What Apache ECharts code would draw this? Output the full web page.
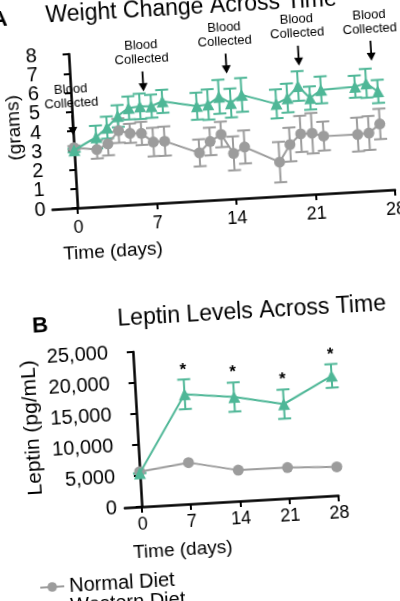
<!DOCTYPE html>
<html>
<head>
<meta charset="utf-8">
<script src="https://cdn.jsdelivr.net/npm/echarts@6/dist/echarts.min.js"></script>
<style>
  html, body { margin: 0; padding: 0; background: #fff; overflow: hidden; }
  body { width: 400px; height: 601px; position: relative; }
  /* the reference figure is photographed slightly tilted */
  #chart {
    position: absolute; left: -20px; top: -20px;
    width: 440px; height: 641px;
    transform: rotate(-3.3deg);
    transform-origin: 220px 320.5px;
  }
</style>
</head>
<body>
<div id="chart"></div>
<script>
  // weight panel (A)
  const weightDays = [0, 2, 3, 4, 5, 6, 7, 8, 11, 12, 13, 14, 15, 18, 19, 20, 21, 22, 25, 26, 27];
  const weightNormal = [3.13, 2.97, 3.23, 3.88, 3.71, 3.67, 3.19, 3.20, 2.49, 3.05, 3.38, 2.36, 2.66, 1.77, 2.65, 3.17, 3.17, 2.99, 2.97, 3.01, 3.45];
  const weightNormalErr = [0.1, 0.47, 0.6, 0.63, 0.5, 0.6, 0.74, 0.76, 0.7, 0.72, 0.66, 0.88, 0.86, 1.05, 0.88, 0.94, 1.05, 0.75, 0.88, 0.88, 0.79];
  const weightWestern = [3.0, 3.61, 4.08, 4.64, 5.03, 5.08, 5.05, 5.27, 4.92, 4.97, 5.34, 4.98, 5.37, 4.80, 5.07, 5.66, 5.0, 5.39, 5.46, 5.60, 5.14];
  const weightWesternErr = [0.1, 0.6, 0.57, 0.57, 0.6, 0.66, 0.6, 0.6, 0.7, 0.79, 0.88, 0.75, 0.88, 0.75, 0.75, 0.77, 0.6, 0.7, 0.57, 0.75, 0.6];
  const weightTicks = [0, 1, 2, 3, 4, 5, 6, 7, 8];
  const bloodDays = [0, 6.4, 13.8, 20.2, 26.6];
  const bloodArrowTip = [3.78, 5.85, 6.52, 6.71, 6.75];

  // leptin panel (B)
  const leptinDays = [0, 7, 14, 21, 28];
  const leptinNormal = [5650, 6670, 4980, 4940, 4600];
  const leptinWestern = [5400, 17700, 16800, 15200, 19300];
  const leptinWesternErr = [0, 2400, 2350, 2350, 1900];
  const leptinSig = ['', '*', '*', '*', '*'];

  const dayTicks = [0, 7, 14, 21, 28];
  const seriesNames = ['Normal Diet', 'Western Diet'];

  const GRAY = '#9c9c9c';
  const TEAL = '#4fb797';
  const FONT = 'Liberation Sans, Arial, sans-serif';

  function errRows(xs, ys, es) {
    return xs.map((x, i) => [x, ys[i] - es[i], ys[i] + es[i]]);
  }

  function errorBars(color, capHalf, marks) {
    return function (params, api) {
      const x = api.value(0);
      const top = api.coord([x, api.value(2)]);
      const bot = api.coord([x, api.value(1)]);
      const st = { stroke: color, lineWidth: 2 };
      const kids = [
        { type: 'line', shape: { x1: top[0], y1: top[1], x2: bot[0], y2: bot[1] }, style: st },
        { type: 'line', shape: { x1: top[0] - capHalf, y1: top[1], x2: top[0] + capHalf, y2: top[1] }, style: st },
        { type: 'line', shape: { x1: bot[0] - capHalf, y1: bot[1], x2: bot[0] + capHalf, y2: bot[1] }, style: st }
      ];
      if (marks && marks[params.dataIndex]) {
        kids.push({
          type: 'text', x: top[0], y: top[1] - 1,
          style: { text: marks[params.dataIndex], fill: '#000', fontSize: 17, fontFamily: FONT,
                   fontWeight: 'bold', align: 'center', verticalAlign: 'bottom' }
        });
      }
      return { type: 'group', children: kids };
    };
  }

  const axisCommon = {
    axisLine: { lineStyle: { color: '#000', width: 2.5 } },
    axisTick: { lineStyle: { color: '#000', width: 2 }, length: 6 },
    splitLine: { show: false },
    nameMoveOverlap: false
  };

  // the 0..8 labels are tightly packed, so split them over two overlaid axes
  const evenTicks = weightTicks.filter(v => v % 2 === 0);
  const oddTicks = weightTicks.filter(v => v % 2 === 1);

  const myChart = echarts.init(document.getElementById('chart'));
  myChart.setOption({
    animation: false,
    backgroundColor: '#fff',
    textStyle: { fontFamily: FONT },
    title: [
      { text: 'Weight Change Across Time', left: 228, top: 16, textAlign: 'center', padding: 0,
        textStyle: { fontSize: 23, fontWeight: 'normal', color: '#000', lineHeight: 23 } },
      { text: 'Leptin Levels Across Time', left: 271, top: 323, textAlign: 'center', padding: 0,
        textStyle: { fontSize: 23, fontWeight: 'normal', color: '#000', lineHeight: 23 } },
      { text: 'A', left: 36, top: 18, textAlign: 'center', padding: 0,
        textStyle: { fontSize: 22, fontWeight: 'bold', color: '#000', lineHeight: 22 } },
      { text: 'B', left: 59, top: 326, textAlign: 'center', padding: 0,
        textStyle: { fontSize: 22, fontWeight: 'bold', color: '#000', lineHeight: 22 } }
    ],
    legend: {
      data: seriesNames,
      orient: 'vertical',
      left: 43, top: 588,
      padding: 0, itemGap: 0,
      itemWidth: 24, itemHeight: 12,
      textStyle: { fontSize: 20, color: '#000', lineHeight: 18 }
    },
    grid: [
      { left: 78, top: 67, width: 343, height: 154, outerBoundsMode: 'none' },
      { left: 133, top: 368, width: 214, height: 155, outerBoundsMode: 'none' }
    ],
    xAxis: [
      Object.assign({}, axisCommon, {
        type: 'value', gridIndex: 0, min: -2.2, max: 28,
        axisTick: Object.assign({}, axisCommon.axisTick, { customValues: dayTicks }),
        axisLabel: { customValues: dayTicks, fontSize: 18, color: '#000', margin: 11 },
        name: 'Time (days)', nameLocation: 'middle', nameGap: 36,
        nameTextStyle: { fontSize: 19, color: '#000', padding: [0, 227, 0, 0] }
      }),
      Object.assign({}, axisCommon, {
        type: 'value', gridIndex: 1, min: -2.4, max: 28,
        axisTick: Object.assign({}, axisCommon.axisTick, { customValues: dayTicks }),
        axisLabel: { customValues: dayTicks, fontSize: 18, color: '#000', margin: 9 },
        name: 'Time (days)', nameLocation: 'middle', nameGap: 36,
        nameTextStyle: { fontSize: 19, color: '#000', padding: [0, 103, 0, 0] }
      })
    ],
    yAxis: [
      Object.assign({}, axisCommon, {
        type: 'value', gridIndex: 0, min: 0, max: 8,
        axisTick: Object.assign({}, axisCommon.axisTick, { customValues: weightTicks }),
        axisLabel: { customValues: evenTicks, margin: 7, fontSize: 20, color: '#000' },
        name: 'Weight\n(grams)', nameLocation: 'middle', nameRotate: 90, nameGap: 20,
        nameTextStyle: { fontSize: 19, color: '#000', lineHeight: 27, padding: [0, 0, 0, 13] }
      }),
      {
        type: 'value', gridIndex: 0, min: 0, max: 8, position: 'left',
        axisLine: { show: false }, axisTick: { show: false }, splitLine: { show: false },
        axisLabel: { customValues: oddTicks, margin: 7, fontSize: 20, color: '#000' }
      },
      Object.assign({}, axisCommon, {
        type: 'value', gridIndex: 1, min: 0, max: 25000, interval: 5000,
        axisLabel: { fontSize: 20, color: '#000', margin: 8, showMinLabel: true, showMaxLabel: true },
        name: 'Leptin (pg/mL)', nameLocation: 'middle', nameRotate: 90, nameGap: 77,
        nameTextStyle: { fontSize: 21, color: '#000', padding: [0, 0, 0, 15] }
      })
    ],
    series: [
      // weight error bars
      { type: 'custom', xAxisIndex: 0, yAxisIndex: 0, z: 1, silent: true,
        renderItem: errorBars(GRAY, 6.5), encode: { x: 0, y: [1, 2] },
        data: errRows(weightDays, weightNormal, weightNormalErr) },
      { type: 'custom', xAxisIndex: 0, yAxisIndex: 0, z: 1, silent: true,
        renderItem: errorBars(TEAL, 6.5), encode: { x: 0, y: [1, 2] },
        data: errRows(weightDays, weightWestern, weightWesternErr) },
      { name: 'Normal Diet', type: 'line', xAxisIndex: 0, yAxisIndex: 0, z: 2,
        symbol: 'circle', symbolSize: 11,
        itemStyle: { color: GRAY }, lineStyle: { color: GRAY, width: 2 },
        data: weightDays.map((d, i) => [d, weightNormal[i]]) },
      { name: 'Western Diet', type: 'line', xAxisIndex: 0, yAxisIndex: 0, z: 3,
        symbol: 'triangle', symbolSize: 12,
        itemStyle: { color: TEAL }, lineStyle: { color: TEAL, width: 2 },
        data: weightDays.map((d, i) => [d, weightWestern[i]]) },
      // "Blood Collected" arrows
      { type: 'scatter', xAxisIndex: 0, yAxisIndex: 0, z: 4, silent: true,
        symbol: 'path://M4,0 L6,0 L6,13 L10,13 L5,22 L0,13 L4,13 Z',
        symbolSize: [9, 20], symbolOffset: [0, '-50%'], symbolKeepAspect: false,
        itemStyle: { color: '#000', opacity: 1 },
        label: { show: true, position: 'top', distance: 5, formatter: 'Blood\nCollected',
                 fontSize: 13, lineHeight: 14, color: '#000', opacity: 1, align: 'center',
                 textBorderWidth: 0 },
        data: bloodDays.map((d, i) => [d, bloodArrowTip[i]]) },

      // leptin
      { type: 'custom', xAxisIndex: 1, yAxisIndex: 2, z: 1, silent: true,
        renderItem: errorBars(TEAL, 6.5, leptinSig), encode: { x: 0, y: [1, 2] },
        data: errRows(leptinDays, leptinWestern, leptinWesternErr) },
      { name: 'Normal Diet', type: 'line', xAxisIndex: 1, yAxisIndex: 2, z: 2,
        symbol: 'circle', symbolSize: 11,
        itemStyle: { color: GRAY }, lineStyle: { color: GRAY, width: 2 },
        data: leptinDays.map((d, i) => [d, leptinNormal[i]]) },
      { name: 'Western Diet', type: 'line', xAxisIndex: 1, yAxisIndex: 2, z: 3,
        symbol: 'triangle', symbolSize: 12,
        itemStyle: { color: TEAL }, lineStyle: { color: TEAL, width: 2 },
        data: leptinDays.map((d, i) => [d, leptinWestern[i]]) }
    ]
  });
</script>
</body>
</html>
